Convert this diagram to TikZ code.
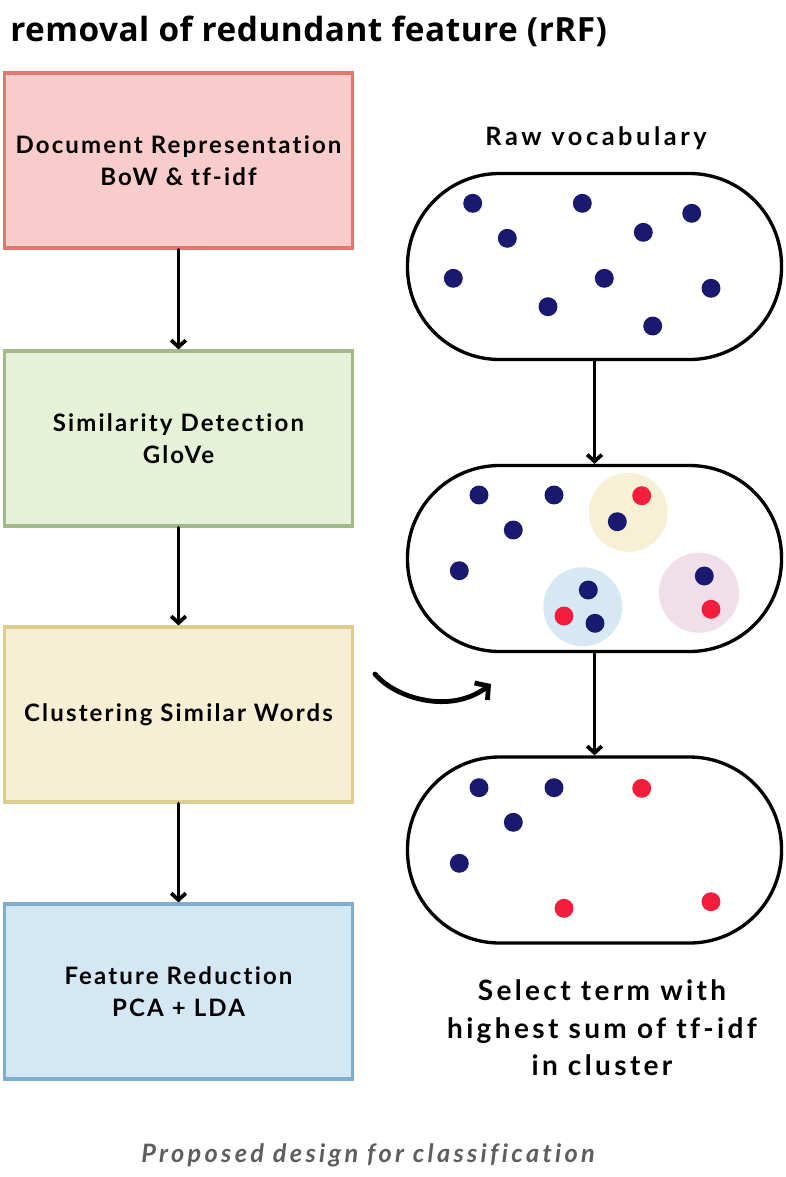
\documentclass[tikz,border=0pt]{standalone}
\usepackage{fontspec}
\setmainfont{Lato}
\newfontfamily\titlefont{Open Sans}[LetterSpace=1.5]
\newfontfamily\boxfont{Lato}[LetterSpace=9, Ligatures={NoCommon,NoRare}]
\newfontfamily\rawfont{Lato}[LetterSpace=14, Ligatures={NoCommon,NoRare}]
\newfontfamily\selfont{Lato}[LetterSpace=12, Ligatures={NoCommon,NoRare}]
\newfontfamily\capfont{Lato}[LetterSpace=13, Ligatures={NoCommon,NoRare}]
\usetikzlibrary{arrows.meta}
\definecolor{b1fill}{HTML}{F7CCCB}
\definecolor{b1draw}{HTML}{E5756F}
\definecolor{b2fill}{HTML}{E6F2D8}
\definecolor{b2draw}{HTML}{A3B98A}
\definecolor{b3fill}{HTML}{F7EFD3}
\definecolor{b3draw}{HTML}{DDCD8E}
\definecolor{b4fill}{HTML}{D4E7F4}
\definecolor{b4draw}{HTML}{7FAECC}
\definecolor{navy}{HTML}{18196F}
\definecolor{hot}{HTML}{F41E3C}
\definecolor{cy}{HTML}{F7F0D5}
\definecolor{cb}{HTML}{D5E8F4}
\definecolor{cp}{HTML}{F0DEE8}
\definecolor{capgrey}{HTML}{5E5E5E}
\tikzset{
  stepbox/.style={rectangle, line width=2.6pt, minimum width=261pt, minimum height=131pt, inner sep=0pt, align=center, font=\boxfont\bfseries\fontsize{18}{24}\selectfont},
  capsule/.style={rectangle, rounded corners=69pt, draw=black, line width=2.5pt, fill=white, minimum width=280.5pt, minimum height=139.5pt, inner sep=0pt},
  flowarr/.style={draw=black, line width=2.8pt, line cap=round, -{Straight Barb[length=5pt, width=11pt, line width=2.8pt]}},
  curvarr/.style={draw=black, line width=3.6pt, line cap=round, -{Straight Barb[length=7pt, width=16pt, line width=3.6pt]}},
  wdot/.style={fill=navy},
  rdot/.style={fill=hot},
}
\begin{document}
\begin{tikzpicture}[x=0.75pt, y=-0.75pt]
\useasboundingbox (0,0) rectangle (785,1177);
\fill[white] (0,0) rectangle (785,1177);

% title
\node[anchor=base west, inner sep=0pt, font=\titlefont\bfseries\fontsize{25}{28}\selectfont] (title) at (10,42) {removal of redundant feature (rRF)};

% left boxes
\node[stepbox, fill=b1fill, draw=b1draw] (b1) at (178.5,160.5) {Document Representation\\BoW \& tf-idf};
\node[stepbox, fill=b2fill, draw=b2draw] (b2) at (178.5,438.5) {Similarity Detection\\GloVe};
\node[stepbox, fill=b3fill, draw=b3draw] (b3) at (178.5,714.5) {Clustering Similar Words};
\node[stepbox, fill=b4fill, draw=b4draw] (b4) at (178.5,991.5) {Feature Reduction\\PCA + LDA};

\draw[flowarr] (b1.south) -- (b2.north);
\draw[flowarr] (b2.south) -- (b3.north);
\draw[flowarr] (b3.south) -- (b4.north);

% right capsules
\node[inner sep=0pt, font=\rawfont\bfseries\fontsize{19}{24}\selectfont] (raw) at (596,138) {Raw vocabulary};
\node[capsule] (c1) at (594.5,266.5) {};
\node[capsule] (c2) at (594.5,558.5) {};
\node[capsule] (c3) at (594.5,850) {};

\draw[flowarr] (c1.south) -- (c2.north);
\draw[flowarr] (c2.south) -- (c3.north);

% dots capsule 1
\foreach \x/\y in {472.7/203.3, 582.3/203.3, 691.7/213.3, 507.3/238.3, 643.3/232.3, 453.3/278.3, 604.3/278.3, 711/288.3, 548/306.7, 652.7/326}
  \fill[wdot] (\x,\y) circle (7.1pt);

% capsule 2: clusters
\fill[cy] (628.3,512.3) circle (29.6pt);
\fill[cb] (582.7,606.7) circle (29.6pt);
\fill[cp] (699,592.7) circle (30pt);
\foreach \x/\y in {479/495, 554/495, 617.3/521.7, 513.3/530, 459.3/570.7, 588.3/590, 704.3/576, 595/623.3}
  \fill[wdot] (\x,\y) circle (7.1pt);
\foreach \x/\y in {641.7/495.7, 564/616, 711/609.3}
  \fill[rdot] (\x,\y) circle (7.1pt);

% capsule 3
\foreach \x/\y in {479/787.7, 554/787.7, 513.3/822.3, 459.3/863.3}
  \fill[wdot] (\x,\y) circle (7.1pt);
\foreach \x/\y in {641.7/788.3, 564/908.3, 711/901.7}
  \fill[rdot] (\x,\y) circle (7.1pt);

\node[inner sep=0pt, align=center, font=\selfont\bfseries\fontsize{21}{28}\selectfont] (sel) at (602,1028) {Select term with\\highest sum of tf-idf\\in cluster};

% curved arrow
\coordinate (cs) at (375,674);
\coordinate (ce) at (491,684);
\draw[curvarr] (cs) .. controls (395,698) and (450,715) .. (ce);

% caption
\node[inner sep=0pt, text=capgrey, font=\capfont\bfseries\itshape\fontsize{19}{22}\selectfont] (cap) at (368,1155) {Proposed design for classification};
\end{tikzpicture}
\end{document}
